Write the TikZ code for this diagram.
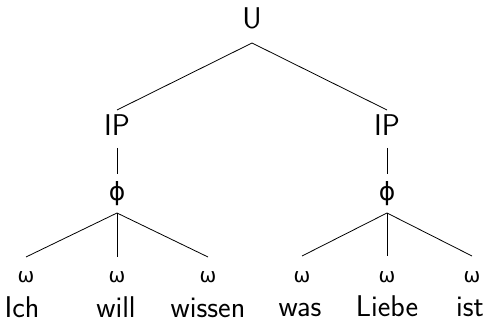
\documentclass[tikz,border=0pt]{standalone}
\usepackage{fontspec}
\newfontfamily\grk{DejaVu Sans}
\begin{document}
\begin{tikzpicture}[x=1pt,y=-1pt,
  every node/.style={inner sep=0pt,outer sep=0pt,anchor=base,font=\fontsize{30}{32}\sffamily},
  topn/.style={text depth=14pt},
  ipn/.style={text height=26pt,text depth=12pt},
  phin/.style={font=\fontsize{25}{27}\grk,text height=27pt,text depth=12pt},
  omn/.style={font=\fontsize{20}{22}\grk,text height=26pt,text depth=0pt},
  edge/.style={line width=0.8pt}]
\useasboundingbox (0,0) rectangle (490,323);
\node[topn] (U) at (252,29) {U};
\node[ipn] (IPa) at (117,136) {IP};
\node[ipn] (IPb) at (387,136) {IP};
\node[phin] (Pa) at (117,201) {ϕ};
\node[phin] (Pb) at (387,201) {ϕ};
\node[omn] (W1) at (26,283) {ω};
\node[omn] (W2) at (117,283) {ω};
\node[omn] (W3) at (208,283) {ω};
\node[omn] (W4) at (302,282) {ω};
\node[omn] (W5) at (387,282) {ω};
\node[omn] (W6) at (472,282) {ω};
\node (T1) at (22,317) {Ich};
\node (T2) at (116,317) {will};
\node (T3) at (208,317) {wissen};
\node (T4) at (300,316) {was};
\node (T5) at (387,316) {Liebe};
\node (T6) at (470,316) {ist};
\draw[edge] (U.south) -- (IPa.north);
\draw[edge] (U.south) -- (IPb.north);
\draw[edge] (IPa.south) -- (Pa.north);
\draw[edge] (IPb.south) -- (Pb.north);
\draw[edge] (Pa.south) -- (W1.north);
\draw[edge] (Pa.south) -- (W2.north);
\draw[edge] (Pa.south) -- (W3.north);
\draw[edge] (Pb.south) -- (W4.north);
\draw[edge] (Pb.south) -- (W5.north);
\draw[edge] (Pb.south) -- (W6.north);
\end{tikzpicture}
\end{document}
